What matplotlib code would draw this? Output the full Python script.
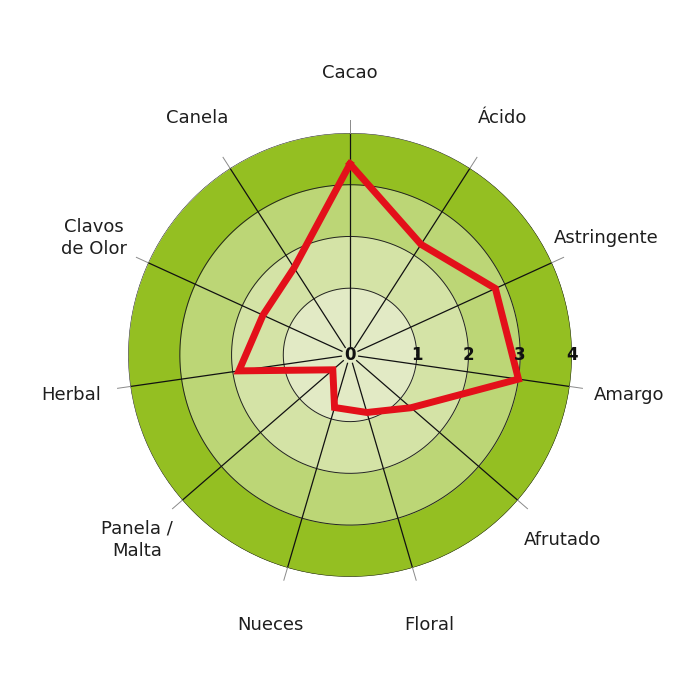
import numpy as np
import matplotlib
matplotlib.use("Agg")
import matplotlib.pyplot as plt

categories = ["Cacao", "Ácido", "Astringente", "Amargo", "Afrutado", "Floral",
              "Nueces", "Panela /\nMalta", "Herbal", "Clavos\nde Olor", "Canela"]
values = [3.4, 2.25, 2.8, 3.0, 1.27, 0.87, 0.77, 0.15, 1.88, 1.56, 1.71]
ring_ticks = [1, 2, 3, 4]
ring_colors = ["#e2eac5", "#d4e3a6", "#bcd676", "#94bf22"]

rmin = -0.29
n = len(categories)
angles = np.pi / 2 - np.arange(n) * 2 * np.pi / n

fig = plt.figure(figsize=(7, 7), dpi=100)
ax = fig.add_axes([0.5 - 0.317, 0.493 - 0.317, 0.634, 0.634], projection="polar")
ax.set_ylim(rmin, 4)
ax.axis("off")

# coloured rings, outer first
t = np.linspace(0, 2 * np.pi, 400)
edges = [rmin] + ring_ticks
for i in range(len(ring_ticks) - 1, -1, -1):
    ax.fill_between(t, rmin, edges[i + 1], color=ring_colors[i], lw=0, zorder=1)
for r in ring_ticks:
    ax.plot(t, np.full_like(t, r), color="#222222", lw=0.7, zorder=2)

# spokes (leave a small gap round the 0)
for a in angles:
    ax.plot([a, a], [rmin + 0.17, 4], color="#111111", lw=0.9, zorder=3)
    ax.plot([a, a], [4, 4.25], color="#8a8a8a", lw=0.7, zorder=3, clip_on=False)

# data polygon
va = list(angles) + [angles[0]]
vv = values + [values[0]]
ax.plot(va, vv, color="#e3101a", lw=5, zorder=5, solid_joinstyle="miter")

# tick labels
ax.text(0, rmin, "0", ha="center", va="center", fontsize=12, fontweight="bold",
        color="#111111", zorder=6)
for r in ring_ticks:
    ax.text(0, r, str(r), ha="center", va="center", fontsize=12, fontweight="bold",
            color="#111111", zorder=6)

# category labels
for a, c in zip(angles, categories):
    ax.text(a, 5.16, c, ha="center", va="center", fontsize=13, color="#1e1e1e",
            linespacing=1.3, clip_on=False)

fig.savefig("out.png", dpi=100, facecolor="white")
